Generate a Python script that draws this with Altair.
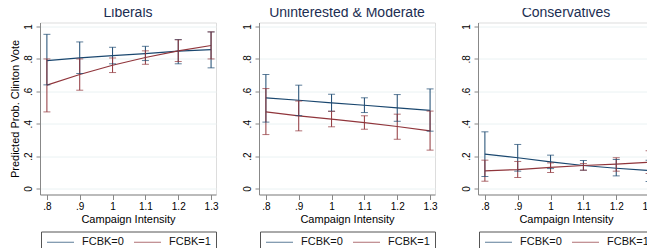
import altair as alt
import pandas as pd

x_vals = [0.8, 0.9, 1.0, 1.1, 1.2, 1.3]
y_ticks = [0, 0.2, 0.4, 0.6, 0.8, 1.0]
panels = ["Liberals", "Uninterested & Moderate", "Conservatives"]
groups = ["FCBK=0", "FCBK=1"]
colors = ["#1a476f", "#90353b"]

lib0 = [0.790, 0.807, 0.821, 0.833, 0.848, 0.858]
lib0_lo = [0.640, 0.710, 0.770, 0.790, 0.770, 0.745]
lib0_hi = [0.952, 0.905, 0.872, 0.878, 0.920, 0.967]
lib1 = [0.638, 0.704, 0.761, 0.809, 0.850, 0.883]
lib1_lo = [0.473, 0.607, 0.716, 0.767, 0.784, 0.800]
lib1_hi = [0.800, 0.800, 0.806, 0.850, 0.918, 0.967]

mod0 = [0.560, 0.545, 0.529, 0.514, 0.498, 0.483]
mod0_lo = [0.410, 0.450, 0.477, 0.469, 0.415, 0.354]
mod0_hi = [0.704, 0.638, 0.582, 0.560, 0.580, 0.615]
mod1 = [0.473, 0.449, 0.428, 0.407, 0.383, 0.356]
mod1_lo = [0.333, 0.356, 0.381, 0.366, 0.304, 0.237]
mod1_hi = [0.617, 0.540, 0.477, 0.449, 0.459, 0.478]

con0 = [0.212, 0.190, 0.165, 0.142, 0.125, 0.111]
con0_lo = [0.074, 0.107, 0.123, 0.113, 0.078, 0.043]
con0_hi = [0.350, 0.272, 0.206, 0.173, 0.179, 0.175]
con1 = [0.109, 0.117, 0.130, 0.142, 0.150, 0.162]
con1_lo = [0.045, 0.068, 0.099, 0.113, 0.107, 0.093]
con1_hi = [0.175, 0.167, 0.158, 0.154, 0.190, 0.233]

series = {
    ("Liberals", "FCBK=0"): (lib0, lib0_lo, lib0_hi),
    ("Liberals", "FCBK=1"): (lib1, lib1_lo, lib1_hi),
    ("Uninterested & Moderate", "FCBK=0"): (mod0, mod0_lo, mod0_hi),
    ("Uninterested & Moderate", "FCBK=1"): (mod1, mod1_lo, mod1_hi),
    ("Conservatives", "FCBK=0"): (con0, con0_lo, con0_hi),
    ("Conservatives", "FCBK=1"): (con1, con1_lo, con1_hi),
}

rows = []
for (p, g), (m, lo, hi) in series.items():
    for xv, mv, l, h in zip(x_vals, m, lo, hi):
        rows.append({"panel": p, "group": g, "x": xv, "y": mv, "lo": l, "hi": h})
df = pd.DataFrame(rows)

FONT = "Liberation Sans"
AXIS_COL = "#707070"

x_label_expr = ("datum.value < 0.95 ? replace(format(datum.value, '.1f'), '0.', '.') : "
                "(abs(datum.value - 1) < 0.01 ? '1' : format(datum.value, '.1f'))")
y_label_expr = ("datum.value < 0.01 ? '0' : (datum.value > 0.99 ? '1' : "
                "replace(format(datum.value, '.1f'), '0.', '.'))")


def panel(name, first):
    base = alt.Chart(df[df.panel == name])
    xaxis = alt.Axis(values=x_vals, labelExpr=x_label_expr, title="Campaign Intensity",
                     grid=False, tickSize=5, labelPadding=2, titlePadding=2,
                     labelOverlap=False, labelFlush=False, titleFontWeight="normal")
    xscale = alt.Scale(domain=[0.779, 1.315], nice=False, zero=False)
    yaxis = dict(values=y_ticks, labelExpr=y_label_expr, grid=True,
                 gridColor="#eaf2f3", labelAngle=-90, tickSize=4, labelPadding=3,
                 labelOverlap=False, labelFlush=False,
                 minExtent=18, maxExtent=18, titleFontWeight="normal")
    if first:
        yaxis["title"] = "Predicted Prob. Clinton Vote"
        yaxis["titlePadding"] = 2
    else:
        yaxis["title"] = None
    yaxis = alt.Axis(**yaxis)
    yscale = alt.Scale(domain=[-0.037, 1.025], nice=False, zero=False)
    xenc = alt.X("x:Q", scale=xscale, axis=xaxis)
    color = alt.Color("group:N", scale=alt.Scale(domain=groups, range=colors),
                      legend=alt.Legend(orient="none", legendX=1, legendY=209,
                                        direction="horizontal", columns=2,
                                        symbolType="M-1,0H5", symbolSize=81,
                                        symbolStrokeWidth=1, symbolFillColor="transparent",
                                        strokeColor="#555555",
                                        padding=5, labelFontSize=11, labelFont=FONT,
                                        labelColor="#111111",
                                        columnPadding=8, labelOffset=25, title=None))
    rule = base.mark_rule(strokeWidth=1).encode(
        x=xenc, y=alt.Y("lo:Q", scale=yscale, axis=yaxis), y2="hi:Q", color=color)
    cap_lo = base.mark_tick(orient="horizontal", size=7, thickness=1).encode(
        x=xenc, y=alt.Y("lo:Q", scale=yscale, axis=yaxis), color=color)
    cap_hi = base.mark_tick(orient="horizontal", size=7, thickness=1).encode(
        x=xenc, y=alt.Y("hi:Q", scale=yscale, axis=yaxis), color=color)
    line = base.mark_line(strokeWidth=1.2).encode(
        x=xenc, y=alt.Y("y:Q", scale=yscale, axis=yaxis), color=color)
    return alt.layer(line, rule, cap_lo, cap_hi).properties(
        width=176, height=172,
        title=alt.TitleParams(name, fontSize=14, font=FONT, color="#1c2e52",
                              fontWeight="normal", anchor="middle", offset=2.5))


chart = alt.hconcat(
    panel(panels[0], True), panel(panels[1], False), panel(panels[2], False),
    spacing=21
).resolve_scale(color="independent").resolve_legend(color="independent").properties(
    padding={"left": 0, "top": -2.5, "right": -10, "bottom": 0}
).configure_view(stroke=None).configure_axis(
    domainColor=AXIS_COL, tickColor=AXIS_COL, labelColor="#111111", titleColor="#111111",
    labelFont=FONT, titleFont=FONT, labelFontSize=11, titleFontSize=11
).configure(background="white")

chart.save("out.html", embed_options={"renderer": "svg", "actions": False})
